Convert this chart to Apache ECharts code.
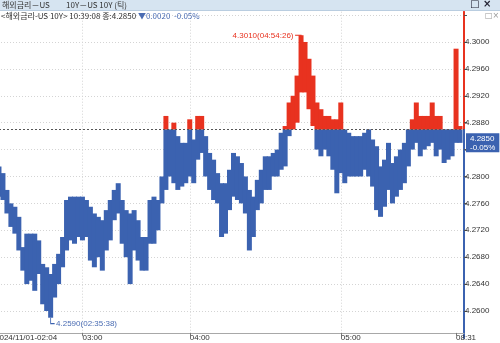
<!DOCTYPE html>
<html>
<head>
<meta charset="utf-8">
<script src="https://cdn.jsdelivr.net/npm/echarts@6/dist/echarts.min.js"></script>
<style>
  html, body { margin: 0; padding: 0; background: #fff; }
  #chart { width: 500px; height: 343px; }
</style>
</head>
<body>
<div id="chart"></div>
<script>
// 틱 구간별 고가 / 저가
var highs = [4.2815, 4.2815, 4.2805, 4.2780, 4.2760, 4.2755, 4.2740, 4.2695, 4.2715, 4.2715,
             4.2715, 4.2705, 4.2670, 4.2665, 4.2655, 4.2670, 4.2685, 4.2710, 4.2765, 4.2770,
             4.2770, 4.2770, 4.2770, 4.2765, 4.2755, 4.2745, 4.2740, 4.2735, 4.2750, 4.2765,
             4.2780, 4.2790, 4.2765, 4.2750, 4.2745, 4.2750, 4.2735, 4.2710, 4.2710, 4.2765,
             4.2770, 4.2765, 4.2800, 4.2890, 4.2870, 4.2880, 4.2860, 4.2850, 4.2850, 4.2885,
             4.2855, 4.2890, 4.2890, 4.2860, 4.2835, 4.2825, 4.2805, 4.2790, 4.2790, 4.2810,
             4.2835, 4.2830, 4.2820, 4.2800, 4.2780, 4.2770, 4.2795, 4.2810, 4.2830, 4.2830,
             4.2835, 4.2840, 4.2865, 4.2875, 4.2910, 4.2920, 4.2950, 4.3010, 4.3000, 4.2975,
             4.2950, 4.2910, 4.2900, 4.2890, 4.2890, 4.2885, 4.2885, 4.2910, 4.2870, 4.2865,
             4.2860, 4.2860, 4.2860, 4.2865, 4.2870, 4.2855, 4.2845, 4.2815, 4.2825, 4.2850,
             4.2820, 4.2830, 4.2840, 4.2850, 4.2870, 4.2885, 4.2910, 4.2890, 4.2890, 4.2890,
             4.2910, 4.2890, 4.2890, 4.2870, 4.2870, 4.2870, 4.2990, 4.2875];
var lows  = [4.2780, 4.2770, 4.2765, 4.2745, 4.2725, 4.2715, 4.2690, 4.2660, 4.2640, 4.2645,
             4.2630, 4.2655, 4.2610, 4.2600, 4.2590, 4.2620, 4.2640, 4.2665, 4.2690, 4.2705,
             4.2700, 4.2710, 4.2705, 4.2710, 4.2675, 4.2665, 4.2680, 4.2660, 4.2690, 4.2705,
             4.2735, 4.2745, 4.2700, 4.2680, 4.2640, 4.2690, 4.2675, 4.2660, 4.2660, 4.2700,
             4.2700, 4.2720, 4.2760, 4.2780, 4.2800, 4.2790, 4.2780, 4.2785, 4.2790, 4.2800,
             4.2790, 4.2825, 4.2835, 4.2800, 4.2780, 4.2765, 4.2760, 4.2710, 4.2715, 4.2750,
             4.2770, 4.2765, 4.2760, 4.2745, 4.2690, 4.2710, 4.2750, 4.2760, 4.2780, 4.2780,
             4.2800, 4.2800, 4.2810, 4.2815, 4.2860, 4.2870, 4.2880, 4.2925, 4.2925, 4.2900,
             4.2875, 4.2840, 4.2830, 4.2840, 4.2830, 4.2810, 4.2775, 4.2805, 4.2790, 4.2800,
             4.2800, 4.2800, 4.2800, 4.2810, 4.2800, 4.2785, 4.2750, 4.2740, 4.2755, 4.2780,
             4.2760, 4.2770, 4.2780, 4.2790, 4.2815, 4.2840, 4.2850, 4.2830, 4.2840, 4.2845,
             4.2850, 4.2830, 4.2840, 4.2820, 4.2825, 4.2830, 4.2850, 4.2850];

var prevClose = 4.2870;   // 전일 종가 (점선)
var lastPrice = 4.2850;
var lastChg = '0.0020';
var lastPct = '-0.05%';
var minIdx = 14, minTime = '02:35:38';
var maxIdx = 77, maxTime = '04:54:26';

// x축 라벨
var tickIdx = [0, 22, 49, 87, 116];
var tickText = ['2024/11/01-02:04', '03:00', '04:00', '05:00', '08:31'];
var gridIdx = [22, 49, 87];
var N = 119;

var BLUE = '#3b62b0', RED = '#e8321f';

var categories = [];
for (var i = 0; i < N; i++) {
    var k = tickIdx.indexOf(i);
    categories.push(k >= 0 ? tickText[k] : '');
}

// 전일 종가 기준으로 파랑/빨강 구간을 나눔
var baseData = [], blueData = [], redData = [], emptyData = [];
for (var i = 0; i < N; i++) {
    emptyData.push(null);
    if (i >= highs.length) { baseData.push(null); blueData.push(null); redData.push(null); continue; }
    var h = highs[i], l = lows[i];
    baseData.push(l);
    blueData.push(Math.max(0, Math.min(h, prevClose) - l));
    redData.push(Math.max(0, h - Math.max(l, prevClose)));
}

var yMin = 4.256, yMax = 4.3045;
var f = (yMax - prevClose) / (yMax - yMin);

var chart = echarts.init(document.getElementById('chart'));
var option = {
    animation: false,
    backgroundColor: '#fff',
    textStyle: { fontFamily: 'Liberation Sans' },
    grid: { left: -5, right: 36, top: 11.7, bottom: 5.1, outerBoundsMode: 'none', containLabel: false },
    xAxis: {
        type: 'category',
        data: categories,
        boundaryGap: false,
        offset: -5,
        axisLine: { lineStyle: { color: '#a8a8a8', width: 1 } },
        axisTick: {
            show: true, length: 3,
            interval: function (idx) { return tickIdx.indexOf(idx) >= 0; },
            lineStyle: { color: '#777' }
        },
        axisLabel: {
            interval: function (idx) { return tickIdx.indexOf(idx) >= 0; },
            align: 'left', margin: 1, fontSize: 8, color: '#333', fontFamily: 'Liberation Sans'
        },
        splitLine: {
            show: true,
            interval: function (idx) { return gridIdx.indexOf(idx) >= 0; },
            lineStyle: { color: '#d4d4d4', type: [1, 2] }
        }
    },
    yAxis: {
        type: 'value',
        position: 'right',
        min: yMin, max: yMax, interval: 0.004,
        axisLine: {
            show: true,
            lineStyle: {
                width: 2,
                color: new echarts.graphic.LinearGradient(0, 0, 0, 1, [
                    { offset: 0, color: RED }, { offset: f, color: RED },
                    { offset: f, color: BLUE }, { offset: 1, color: BLUE }
                ])
            }
        },
        axisTick: { show: true, length: 3, lineStyle: { color: '#555' } },
        axisLabel: {
            margin: 1, fontSize: 8, color: '#333', fontFamily: 'Liberation Sans',
            showMinLabel: false, showMaxLabel: false,
            formatter: function (v) { return v > 4.3005 ? '' : v.toFixed(4); }
        },
        splitLine: {
            show: true, showMinLine: false, showMaxLine: false,
            lineStyle: { color: '#d4d4d4', type: [1, 2] }
        }
    },
    series: [
        {
            type: 'bar', stack: 'tick', data: baseData, silent: true,
            barWidth: 5,
            itemStyle: { color: 'transparent' }
        },
        {
            type: 'bar', stack: 'tick', data: blueData, silent: true,
            barWidth: 5,
            itemStyle: { color: BLUE },
            markPoint: {
                silent: true,
                data: [{
                    coord: [minIdx, lows[minIdx]],
                    symbol: 'path://M0 0 L0 6 L4 6',
                    symbolSize: [4, 6], symbolOffset: [2, 3],
                    itemStyle: { color: 'transparent', borderColor: BLUE, borderWidth: 1 },
                    label: {
                        show: true, position: 'right', distance: 1, offset: [0, 3],
                        formatter: lows[minIdx].toFixed(4) + '(' + minTime + ')',
                        color: '#4a6cb3', fontSize: 8, fontFamily: 'Liberation Sans'
                    }
                }]
            }
        },
        {
            type: 'bar', stack: 'tick', data: redData, silent: true,
            barWidth: 5,
            itemStyle: { color: RED },
            markPoint: {
                silent: true,
                data: [{
                    coord: [maxIdx, highs[maxIdx]],
                    symbol: 'path://M0 0 L6 0 L6 5',
                    symbolSize: [6, 5], symbolOffset: [-3, 2.5],
                    itemStyle: { color: 'transparent', borderColor: RED, borderWidth: 1 },
                    label: {
                        show: true, position: 'left', distance: 1, offset: [0, -2],
                        formatter: highs[maxIdx].toFixed(4) + '(' + maxTime + ')',
                        color: RED, fontSize: 8, fontFamily: 'Liberation Sans'
                    }
                }]
            }
        },
        {
            // 전일 종가 점선 + 현재가 박스
            type: 'line', data: emptyData, silent: true, symbol: 'none',
            clip: false,
            lineStyle: { opacity: 0 },
            markLine: {
                silent: true, symbol: 'none', precision: 4,
                data: [
                    {
                        yAxis: prevClose,
                        lineStyle: { color: '#555', type: [2, 2], width: 1 },
                        label: { show: false }
                    },
                    {
                        yAxis: lastPrice,
                        lineStyle: { color: 'rgba(0,0,0,0)', width: 0.01, opacity: 1 },
                        label: {
                            show: true, position: 'end', distance: 2, opacity: 1,
                            formatter: lastPrice.toFixed(4) + '\n' + lastPct,
                            backgroundColor: BLUE, color: '#fff',
                            fontSize: 8, lineHeight: 9, padding: [1, 4, 0, 4],
                            fontFamily: 'Liberation Sans'
                        }
                    }
                ]
            }
        }
    ],
    graphic: [
        { type: 'rect', shape: { x: 0, y: 0, width: 500, height: 10 }, style: { fill: '#d6e4f1' }, z: 10 },
        { type: 'rect', shape: { x: 0, y: 10, width: 500, height: 1 }, style: { fill: '#b9cde0' }, z: 10 },
        {
            type: 'text', x: 2, y: 0.5, z: 11,
            style: { text: '해외금리－US', fill: '#333', font: '8px "Noto Sans CJK KR"' }
        },
        {
            type: 'text', x: 66, y: 0.5, z: 11,
            style: { text: '10Y－US 10Y (틱)', fill: '#333', font: '8px "Noto Sans CJK KR"' }
        },
        {
            type: 'text', x: 470, y: -1, z: 11,
            style: { text: '□ ×', fill: '#223', font: 'bold 10px "DejaVu Sans"' }
        },
        {
            type: 'text', x: 1, y: 11.5, z: 11,
            style: {
                text: '{a|<해외금리-US 10Y> 10:39:08 종:' + lastPrice.toFixed(4) + ' }{b|▼' + lastChg + '  ' + lastPct + '}',
                rich: {
                    a: { fill: '#333', font: '8px "Noto Sans CJK KR"' },
                    b: { fill: '#4a6cb3', font: '8px "Noto Sans CJK KR"' }
                }
            }
        },
        {
            type: 'text', x: 485, y: 11.5, z: 11,
            style: { text: '□×', fill: '#999', font: '8px "DejaVu Sans"' }
        }
    ]
};
chart.setOption(option);
</script>
</body>
</html>
